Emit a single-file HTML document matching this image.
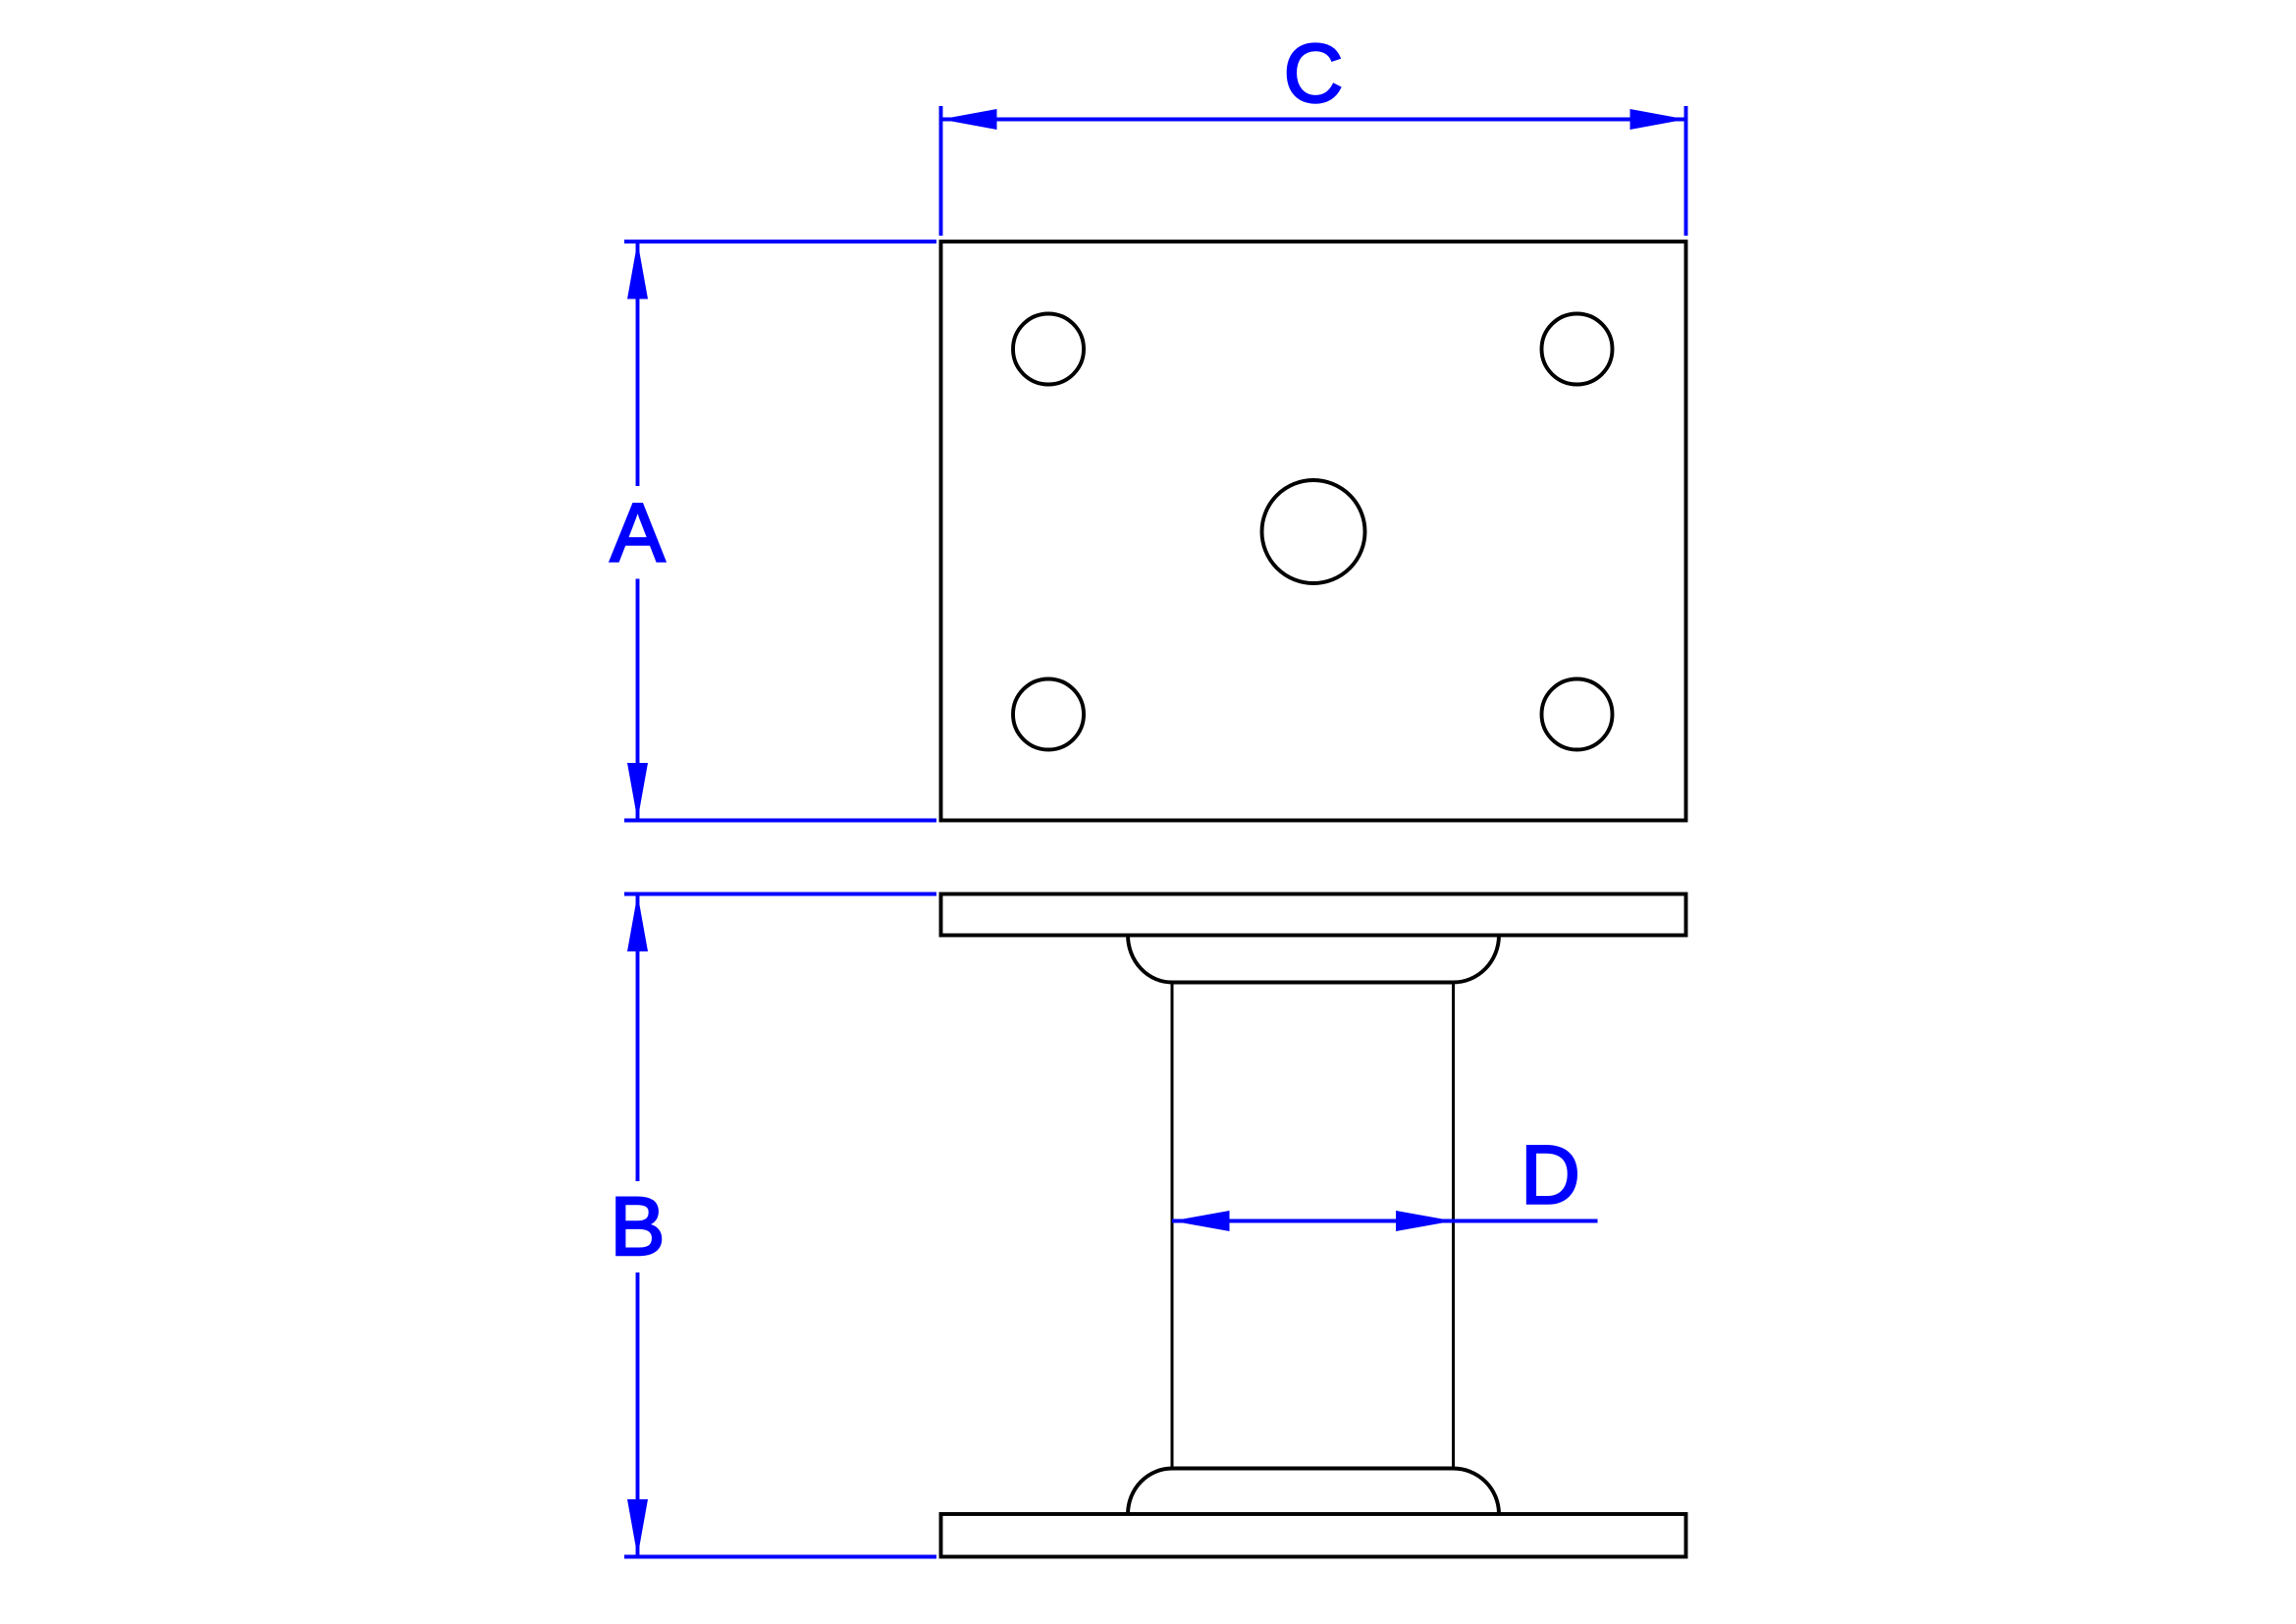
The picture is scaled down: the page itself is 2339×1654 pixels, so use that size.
<!DOCTYPE html>
<html><head><meta charset="utf-8"><style>html,body{margin:0;padding:0;background:#fff}svg{display:block}</style></head>
<body>
<svg width="2339" height="1654" viewBox="0 0 1559.33 1102.67" xmlns="http://www.w3.org/2000/svg">
<rect width="100%" height="100%" fill="#fff"/>
<g fill="none" stroke="#000" stroke-width="2.6">
  <rect x="639" y="164" width="506" height="393"/>
  <circle cx="712" cy="237" r="24"/>
  <circle cx="1071" cy="237" r="24"/>
  <circle cx="712" cy="485" r="24"/>
  <circle cx="1071" cy="485" r="24"/>
  <circle cx="892" cy="361" r="35"/>
  <rect x="639" y="607" width="506" height="28"/>
  <rect x="639" y="1028" width="506" height="29"/>
  <line x1="796" y1="667" x2="796" y2="997" stroke-width="2"/>
  <line x1="987" y1="667" x2="987" y2="997" stroke-width="2"/>
  <line x1="796" y1="667" x2="987" y2="667"/>
  <line x1="796" y1="997" x2="987" y2="997"/>
  <path d="M766 635 A30 32 0 0 0 796 667"/>
  <path d="M1018 635 A31 32 0 0 1 987 667"/>
  <path d="M766 1028 A30 31 0 0 1 796 997"/>
  <path d="M1018 1028 A31 31 0 0 0 987 997"/>
</g>
<g stroke="#00f" stroke-width="2.6" fill="none">
  <line x1="639" y1="72" x2="639" y2="160"/>
  <line x1="1145" y1="72" x2="1145" y2="160"/>
  <line x1="639" y1="81" x2="1145" y2="81"/>
  <line x1="424" y1="164" x2="636" y2="164"/>
  <line x1="424" y1="557" x2="636" y2="557"/>
  <line x1="433" y1="164" x2="433" y2="330"/>
  <line x1="433" y1="393" x2="433" y2="557"/>
  <line x1="424" y1="607" x2="636" y2="607"/>
  <line x1="424" y1="1057" x2="636" y2="1057"/>
  <line x1="433" y1="607" x2="433" y2="802"/>
  <line x1="433" y1="864" x2="433" y2="1057"/>
  <line x1="796" y1="829" x2="1085" y2="829"/>
</g>
<g fill="#00f">
  <polygon points="639,81 677,74 677,88"/>
  <polygon points="1145,81 1107,74 1107,88"/>
  <polygon points="433,164 426,203 440,203"/>
  <polygon points="433,557 426,518 440,518"/>
  <polygon points="433,607 426,646 440,646"/>
  <polygon points="433,1057 426,1018 440,1018"/>
  <polygon points="796,829 835,822 835,836"/>
  <polygon points="987,829 948,822 948,836"/>
</g>
<g fill="#00f" stroke="#00f" stroke-width="1.6" font-family="Liberation Sans, sans-serif" font-size="56" text-anchor="middle">
  <text x="892" y="69">C</text>
  <text x="433" y="381">A</text>
  <text x="433" y="852">B</text>
  <text x="1053" y="817">D</text>
</g>
</svg>
</body></html>
